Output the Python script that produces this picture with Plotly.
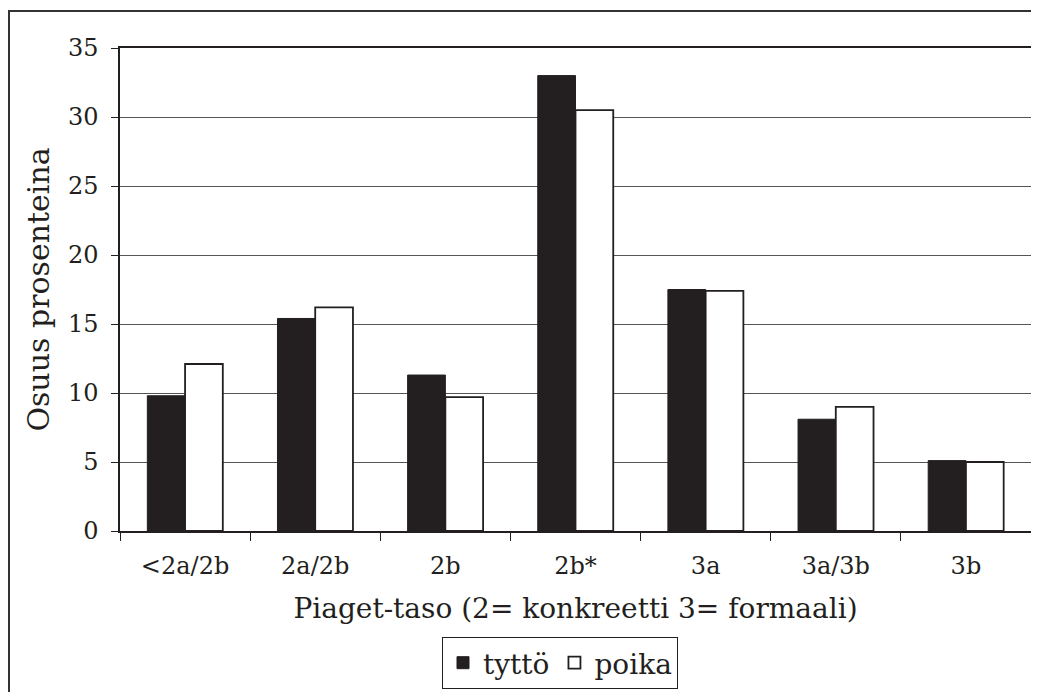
import plotly.graph_objects as go

categories = ["<2a/2b", "2a/2b", "2b", "2b*", "3a", "3a/3b", "3b"]
tytto = [9.8, 15.4, 11.3, 33.0, 17.5, 8.1, 5.1]
poika = [12.1, 16.2, 9.7, 30.5, 17.4, 9.0, 5.0]
y_ticks = [0, 5, 10, 15, 20, 25, 30, 35]

FONT = "DejaVu Serif"
DARK = "#231f20"

# figure is placed at (8,8) by the page's body margin
W, H = 1031, 684
L, R, T, B = 112, 8, 40, 161
PW, PH = W - L - R, H - T - B

fig = go.Figure()
fig.add_trace(go.Bar(x=categories, y=tytto, name="tyttö",
                     marker=dict(color=DARK, line=dict(color=DARK, width=1))))
fig.add_trace(go.Bar(x=categories, y=poika, name="poika",
                     marker=dict(color="white", line=dict(color=DARK, width=1.8))))

fig.update_layout(
    width=W, height=H,
    margin=dict(l=L, r=R, t=T, b=B, autoexpand=False),
    paper_bgcolor="white", plot_bgcolor="white",
    font=dict(family=FONT, color=DARK, size=22),
    barmode="group", bargap=0.42, bargroupgap=0,
    showlegend=True,
    legend=dict(orientation="h", x=0.483, xanchor="center", y=-(637 - 531) / PH, yanchor="top",
                bordercolor=DARK, borderwidth=1, font=dict(size=28, family=FONT),
                itemclick=False, tracegroupgap=0),
    xaxis=dict(
        showline=True, linecolor=DARK, linewidth=1.5, mirror=True,
        ticks="outside", tickson="boundaries", ticklen=8, tickcolor=DARK,
        tickfont=dict(size=24, family=FONT), ticklabelstandoff=12,
        title=dict(text="Piaget-taso (2= konkreetti 3= formaali)",
                   font=dict(size=28, family=FONT), standoff=20),
    ),
    yaxis=dict(
        range=[0, 35], tickvals=y_ticks, showline=True, linecolor=DARK, linewidth=1.5,
        mirror=True, ticks="outside", ticklen=7, tickcolor=DARK,
        showgrid=True, gridcolor="#555555", gridwidth=1, zeroline=False,
        tickfont=dict(size=24, family=FONT), ticklabelstandoff=8,
        title=dict(text="Osuus prosenteina", font=dict(size=30, family=FONT), standoff=9),
    ),
)

# outer frame
fig.add_shape(type="rect", xref="paper", yref="paper",
              x0=(1 - L) / PW, x1=(W + 20 - L) / PW,
              y0=-(H + 20 - T - PH) / PH, y1=(PH + T - 3) / PH,
              line=dict(color="#333333", width=2), fillcolor="rgba(0,0,0,0)", layer="below")

fig.write_html("out.html")
